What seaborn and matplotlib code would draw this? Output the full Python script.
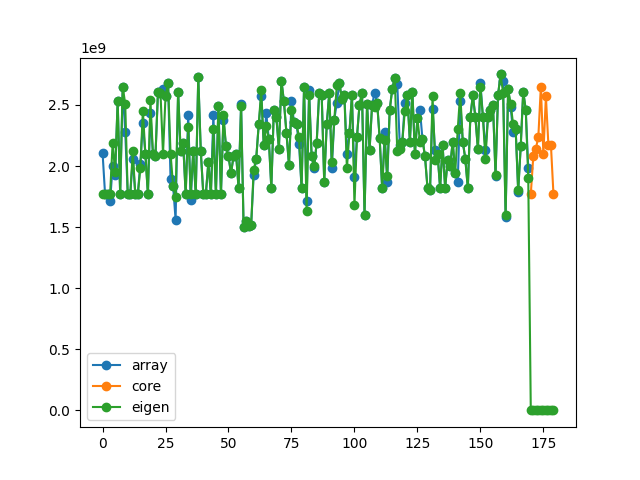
import numpy as np
import pandas as pd
import matplotlib
matplotlib.use("Agg")
import matplotlib.pyplot as plt
import seaborn as sns

# values in units of 1e9
eigen_vals = [
    1.77, 1.77, 1.77, 1.77, 2.19, 1.95, 2.53, 1.77, 2.65, 2.51,
    1.77, 1.77, 2.12, 1.77, 1.77, 1.98, 2.45, 2.10, 1.77, 2.54,
    2.10, 2.08, 2.61, 2.60, 2.10, 2.57, 2.68, 2.10, 1.84, 1.75,
    2.61, 2.12, 2.19, 1.77, 2.32, 1.77, 2.12, 1.77, 2.73, 2.12,
    1.77, 1.77, 2.03, 1.77, 2.30, 1.77, 2.49, 1.77, 2.42, 2.16,
    2.08, 1.94, 2.08, 2.10, 1.82, 2.49, 1.50, 1.55, 1.51, 1.52,
    1.97, 2.06, 2.34, 2.62, 2.17, 2.33, 2.22, 1.82, 2.46, 2.40,
    2.14, 2.70, 2.53, 2.27, 2.01, 2.46, 2.36, 2.34, 2.24, 1.82,
    2.65, 1.63, 2.58, 2.08, 2.00, 2.19, 2.60, 2.58, 1.87, 2.34,
    2.60, 2.03, 2.38, 2.66, 2.68, 2.55, 2.58, 1.98, 2.27, 2.58,
    1.68, 2.24, 2.50, 2.60, 1.60, 2.51, 2.13, 2.50, 2.48, 2.52,
    2.23, 1.82, 2.21, 1.92, 2.46, 2.63, 2.72, 2.12, 2.14, 2.20,
    2.45, 2.58, 2.20, 2.61, 2.10, 2.39, 2.20, 2.22, 2.08, 1.82,
    1.80, 2.57, 2.05, 2.10, 1.82, 2.17, 1.82, 2.05, 2.00, 2.20,
    1.94, 2.30, 2.60, 2.20, 2.06, 1.82, 2.40, 2.58, 2.40, 2.14,
    2.65, 2.40, 2.06, 2.40, 2.46, 2.50, 1.93, 2.58, 2.75, 2.60,
    1.60, 2.63, 2.51, 2.34, 2.30, 1.80, 2.16, 2.61, 2.46, 1.90,
    0.0, 0.0, 0.0, 0.0, 0.0, 0.0, 0.0, 0.0, 0.0, 0.0,
]

# array mostly sits under eigen; only the points that differ are listed
array_diff = {
    0: 2.11, 3: 1.71, 4: 2.00, 5: 1.93, 9: 2.28, 12: 2.06, 15: 2.02,
    16: 2.35, 19: 2.43, 24: 2.63, 27: 1.89, 29: 1.56, 34: 2.42, 35: 1.72,
    44: 2.42, 48: 2.38, 55: 2.51, 60: 1.93, 63: 2.57, 65: 2.43, 75: 2.53,
    78: 2.18, 81: 1.71, 82: 2.62, 84: 1.98, 91: 1.98, 93: 2.52, 97: 2.10,
    100: 1.91, 108: 2.60, 112: 2.28, 113: 1.87, 117: 2.67, 118: 2.17,
    120: 2.52, 126: 2.46, 131: 2.47, 132: 2.13, 141: 1.87, 142: 2.53,
    150: 2.68, 152: 2.13, 156: 1.92, 159: 2.70, 160: 1.58, 162: 2.48,
    163: 2.28, 165: 1.79, 169: 1.98,
}
array_len = 170

core_start = 170
core_vals = [1.77, 2.08, 2.14, 2.24, 2.65, 2.10, 2.57, 2.17, 2.17, 1.77]

series_names = ["array", "core", "eigen"]


def build_series():
    arr = [array_diff.get(i, eigen_vals[i]) for i in range(array_len)]
    data = {
        "array": (np.arange(array_len), np.array(arr) * 1e9),
        "core": (np.arange(core_start, core_start + len(core_vals)),
                 np.array(core_vals) * 1e9),
        "eigen": (np.arange(len(eigen_vals)), np.array(eigen_vals) * 1e9),
    }
    return data


def main():
    data = build_series()
    fig, ax = plt.subplots(figsize=(6.4, 4.8), dpi=100)
    for k, name in enumerate(series_names):
        x, y = data[name]
        c = f"C{k}"
        sns.lineplot(x=x, y=y, ax=ax, color=c, marker="o", markersize=6,
                     markeredgecolor=c, markeredgewidth=1, linewidth=1.5,
                     label=name, sort=False, errorbar=None)
    ax.set_xlabel("")
    ax.set_ylabel("")
    ax.legend(loc="lower left")
    fig.savefig("out.png", dpi=100)
    plt.close(fig)


if __name__ == "__main__":
    main()
